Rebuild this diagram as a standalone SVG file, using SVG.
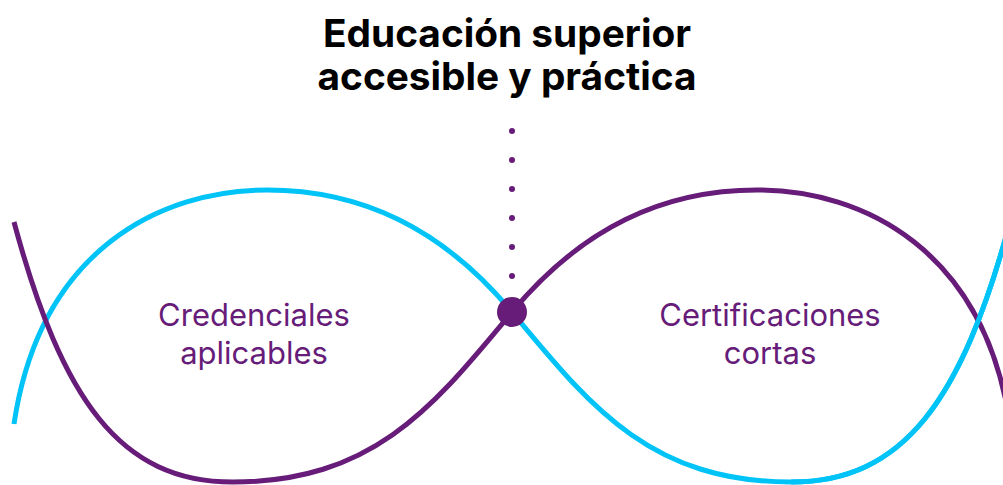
<svg xmlns="http://www.w3.org/2000/svg" width="1003" height="485" viewBox="0 0 1003 485">
  <style>
    .curve { fill: none; stroke-width: 5; stroke-linecap: butt; }
    .cyan { stroke: #00C3F7; }
    .purple { stroke: #661C78; }
    .title { font-family: Inter, "Liberation Sans", sans-serif; font-weight: 700; font-size: 38.8px; fill: #000000; text-anchor: middle; }
    .label { font-family: Inter, "Liberation Sans", sans-serif; font-weight: 400; font-size: 31px; fill: #661C78; text-anchor: middle; }
    .dot { fill: #661C78; }
  </style>
  <rect width="1003" height="485" fill="#ffffff"/>
  <g id="connectors">
    <path class="curve cyan" d="M1010,222 C962,400 904,482 791,482 C648,482 588,403 512,312 C442,228 361,190 267,190 C160,190 40,250 14,424"/>
    <path class="curve purple" d="M14,222 C62,400 120,482 233,482 C376,482 436,403 512,312 C582,228 663,190 757,190 C864,190 984,250 1010,424"/>
    <path class="curve cyan" d="M1010,222 C962,400 904,482 791,482"/>
    <g class="dot">
      <circle cx="512" cy="131" r="3"/>
      <circle cx="512" cy="160" r="3"/>
      <circle cx="512" cy="189" r="3"/>
      <circle cx="512" cy="218" r="3"/>
      <circle cx="512" cy="247" r="3"/>
      <circle cx="512" cy="276" r="3"/>
    </g>
  </g>
  <g id="title">
    <text class="title" x="507" y="47">Educación superior</text>
    <text class="title" x="507" y="90">accesible y práctica</text>
  </g>
  <g id="center-node">
    <circle class="dot" cx="512" cy="312" r="15"/>
  </g>
  <g id="left-node">
    <text class="label" x="254" y="326">Credenciales</text>
    <text class="label" x="254" y="364">aplicables</text>
  </g>
  <g id="right-node">
    <text class="label" x="770" y="326">Certificaciones</text>
    <text class="label" x="770" y="364">cortas</text>
  </g>
</svg>
